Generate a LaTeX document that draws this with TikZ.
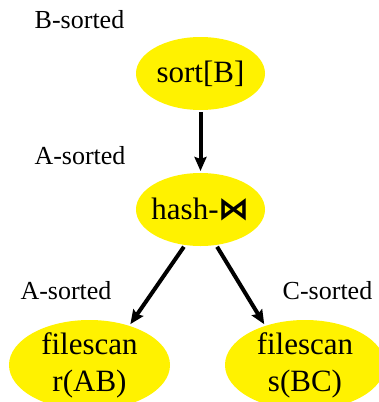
\documentclass[tikz,border=0pt]{standalone}
\usepackage{fontspec}
\setmainfont{Liberation Serif}
\newfontfamily\symfont{DejaVu Sans}
\usetikzlibrary{arrows.meta,shapes.geometric}
\definecolor{opyellow}{RGB}{255,242,0}

\begin{document}
\begin{tikzpicture}[x=1pt,y=-1pt,->,>={Stealth[length=14pt,width=12pt,inset=2pt]},line width=4pt,
    main node/.style={ellipse,fill=opyellow,inner xsep=-12pt,inner ysep=-16pt,align=center,font=\fontsize{31}{37}\selectfont},
    sort label/.style={anchor=base,font=\fontsize{26}{30}\selectfont}]
                \useasboundingbox (0,0) rectangle (378,402);
                \node[main node,minimum width=129pt,minimum height=73pt] (sort) at (200.5,73.5) {sort[B]};
                \node[main node,minimum width=129pt,minimum height=73pt] (hash) at (200.5,209.5) {hash-{\symfont\bfseries ⋈}};
                \node[main node,minimum width=161pt,minimum height=90pt] (r) at (89.5,365) {filescan\\r(AB)};
                \node[main node,minimum width=160pt,minimum height=90pt] (s) at (305,365) {filescan\\s(BC)};

                \node[sort label] (bsort) at (79.5,28) {B-sorted};
                \node[sort label] (asort) at (80,164) {A-sorted};
                \node[sort label] (rsort) at (66,299) {A-sorted};
                \node[sort label] (ssort) at (327.5,299) {C-sorted};

                \path
                    (sort) edge (hash)
                    (hash.246) edge (r.45)
                    (hash.294) edge (s.135)
                    ;
            \end{tikzpicture}
\end{document}
